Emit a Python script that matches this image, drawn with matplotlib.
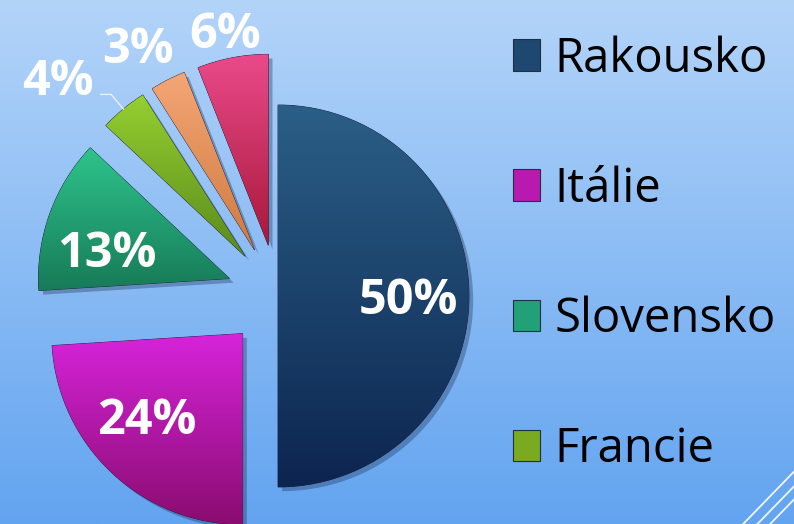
import numpy as np
import matplotlib.pyplot as plt
from matplotlib.colors import LinearSegmentedColormap
from matplotlib.patches import Patch
from matplotlib import patheffects as pe

# data
countries = ["Rakousko", "Itálie", "Slovensko", "Francie", "", ""]
shares = [50, 24, 13, 4, 3, 6]
n_legend = 4

# style
explode = [0.0, 0.27, 0.27, 0.27, 0.27, 0.27]
top_colors = ["#2B5F86", "#D624DA", "#2EC48C", "#96D030", "#F4A676", "#EA4A8A"]
bottom_colors = ["#0C2550", "#8A0C70", "#177A58", "#5A8A1C", "#D07A40", "#A8183A"]
legend_colors = ["#1E4870", "#B81AB0", "#22A078", "#7AAA20", "#E08A58", "#D03060"]
label_dist = [0.68, 0.66, 0.66, 1.36, 1.235, 1.15]
label_rot = [0, -6, 6, 6.5, 2.5, 0.5]

W, H = 794, 524
cx, cy, R = 278, 228, 191  # pie centre / radius in pixels

fig = plt.figure(figsize=(W / 100, H / 100), dpi=100)

# background gradient
bg = fig.add_axes([0, 0, 1, 1])
bg.axis("off")
grad = np.linspace(0, 1, 256)[:, None]
bg.imshow(grad, aspect="auto", extent=[0, 1, 0, 1],
          cmap=LinearSegmentedColormap.from_list("bg", ["#B3D4F9", "#63A4F0"]))
for off in [0.0, 0.018, 0.034]:
    bg.plot([0.936 + off, 1.0 + off], [0.0, 0.10], color="white", lw=1.3, alpha=0.9)
bg.set_xlim(0, 1)
bg.set_ylim(0, 1)

ax = fig.add_axes([0, 0, 1, 1])
wedges, _ = ax.pie(shares, explode=explode, startangle=90, counterclock=False,
                   radius=1, colors=bottom_colors, frame=True,
                   wedgeprops=dict(edgecolor="#202040", linewidth=0.6))

for w, top, bot in zip(wedges, top_colors, bottom_colors):
    w.set_path_effects([pe.SimplePatchShadow(offset=(3, -3), alpha=0.35, shadow_rgbFace="#1a3050"),
                        pe.Normal()])
    ext = w.get_path().get_extents()
    cmap = LinearSegmentedColormap.from_list("w", [top, bot])
    im = ax.imshow(grad, aspect="auto", cmap=cmap, zorder=1.5,
                   extent=[ext.x0, ext.x1, ext.y0, ext.y1])
    im.set_clip_path(w)

# percentage labels
for i, (w, s) in enumerate(zip(wedges, shares)):
    mid = np.deg2rad((w.theta1 + w.theta2) / 2 + label_rot[i])
    x = w.center[0] + label_dist[i] * np.cos(mid)
    y = w.center[1] + label_dist[i] * np.sin(mid)
    ax.text(x, y, f"{s}%", ha="center", va="center_baseline", color="white",
            fontsize=35, fontweight="bold", family="Open Sans", zorder=3)

# leader line for Francie
w = wedges[3]
mid = np.deg2rad((w.theta1 + w.theta2) / 2)
p0 = (w.center[0] + np.cos(mid), w.center[1] + np.sin(mid))
p1 = (w.center[0] + 1.1 * np.cos(mid), w.center[1] + 1.1 * np.sin(mid))
ax.plot([p0[0], p1[0], p1[0] - 0.055], [p0[1], p1[1], p1[1]],
        color="#E8F0FA", lw=1, zorder=3)

ax.set_xlim(-cx / R, (W - cx) / R)
ax.set_ylim(-cy / R, (H - cy) / R)
ax.axis("off")

handles = [Patch(facecolor=c, edgecolor="#203040", linewidth=0.8) for c in legend_colors[:n_legend]]
fig.legend(handles, countries[:n_legend], loc="upper left",
           bbox_to_anchor=(513 / W, 1 - 35 / H), frameon=False,
           prop={"family": "Open Sans", "size": 34},
           handlelength=0.57, handleheight=0.64, handletextpad=0.3,
           labelspacing=1.75, borderpad=0, borderaxespad=0)

fig.savefig("out.png", dpi=100)
